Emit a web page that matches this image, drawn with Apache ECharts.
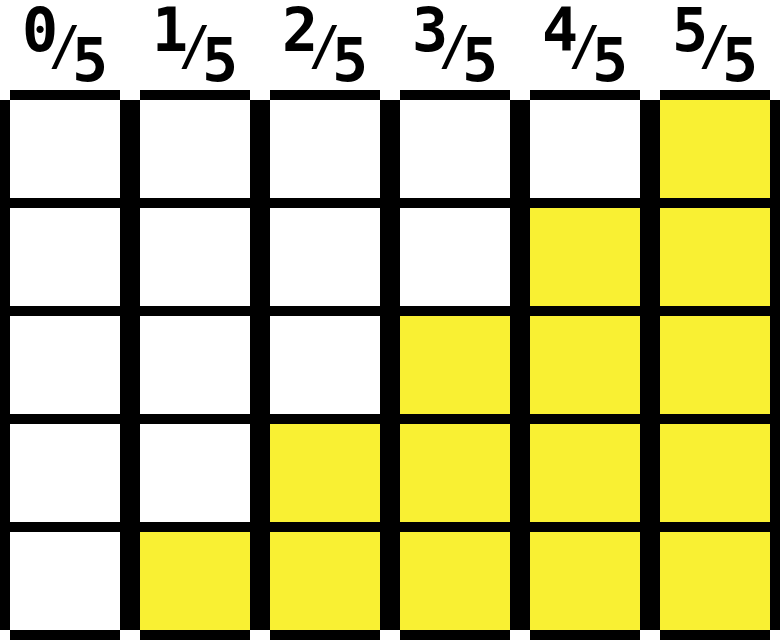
<!DOCTYPE html>
<html>
<head>
<meta charset="utf-8">
<script src="https://cdn.jsdelivr.net/npm/echarts@6/dist/echarts.min.js"></script>
<style>html,body{margin:0;padding:0;background:#fff;}#c{width:780px;height:640px;}</style>
</head>
<body>
<div id="c"></div>
<script>
// Column categories (top labels)
const numerators = ['0', '1', '2', '3', '4', '5'];
const denominator = '5';
// Row categories, top to bottom
const rowLabels = ['r5', 'r4', 'r3', 'r2', 'r1'];
// Filled (1) / empty (0) state of each cell, rows top to bottom, columns left to right
const cellValues = [
  [0, 0, 0, 0, 0, 1],
  [0, 0, 0, 0, 1, 1],
  [0, 0, 0, 1, 1, 1],
  [0, 0, 1, 1, 1, 1],
  [0, 1, 1, 1, 1, 1]
];

const categories = numerators.map(n => n + '/' + denominator);
const data = [];
cellValues.forEach((row, r) => row.forEach((v, c) => data.push([c, r, v])));

const FILL = '#f9f033';
const LINE = '#000000';

const chart = echarts.init(document.getElementById('c'), null, { renderer: 'canvas' });
chart.setOption({
  backgroundColor: '#ffffff',
  animation: false,
  grid: { left: 0, right: 0, top: 95, bottom: 5 },
  xAxis: {
    type: 'category',
    position: 'top',
    data: categories,
    axisLine: { show: false },
    axisTick: { show: false },
    splitLine: { show: false },
    axisLabel: {
      interval: 0,
      margin: 0,
      formatter: function (val) {
        const parts = val.split('/');
        return '{n|' + parts[0] + '}{s|/}{d|' + parts[1] + '}';
      },
      rich: {
        n: { fontFamily: 'DejaVu Sans Mono', fontWeight: 'bold', fontSize: 60, color: '#000', padding: [0, 0, 30, 0] },
        s: { fontFamily: 'DejaVu Sans Mono', fontWeight: 'normal', fontSize: 54, color: '#000', padding: [0, 0, 0, 0], width: 14 },
        d: { fontFamily: 'DejaVu Sans Mono', fontWeight: 'bold', fontSize: 60, color: '#000', padding: [30, 0, 0, 0] }
      }
    }
  },
  yAxis: {
    type: 'category',
    inverse: true,
    data: rowLabels,
    axisLine: { show: false },
    axisTick: { show: false },
    axisLabel: { show: false },
    splitLine: { show: false }
  },
  series: [{
    type: 'custom',
    data: data,
    renderItem: function (params, api) {
      const xi = api.value(0), yi = api.value(1), v = api.value(2);
      const c = api.coord([xi, yi]);
      const s = api.size([1, 1]);
      const w = s[0], h = s[1];
      const x0 = c[0] - w / 2, x1 = c[0] + w / 2;
      const y0 = c[1] - h / 2, y1 = c[1] + h / 2;
      const isTop = yi === 0, isBottom = yi === rowLabels.length - 1;
      const vTop = isTop ? y0 + 5 : y0 - 5;
      const vBot = isBottom ? y1 - 5 : y1 + 5;
      const black = { fill: LINE };
      return {
        type: 'group',
        children: [
          { type: 'rect', shape: { x: x0 + 10, y: y0 + 5, width: w - 20, height: h - 10 }, style: { fill: v ? FILL : '#ffffff' } },
          { type: 'rect', shape: { x: x0, y: vTop, width: 10, height: vBot - vTop }, style: black },
          { type: 'rect', shape: { x: x1 - 10, y: vTop, width: 10, height: vBot - vTop }, style: black },
          { type: 'rect', shape: { x: x0 + 10, y: y0 - 5, width: w - 20, height: 10 }, style: black },
          { type: 'rect', shape: { x: x0 + 10, y: y1 - 5, width: w - 20, height: 10 }, style: black }
        ]
      };
    }
  }]
});
</script>
</body>
</html>
